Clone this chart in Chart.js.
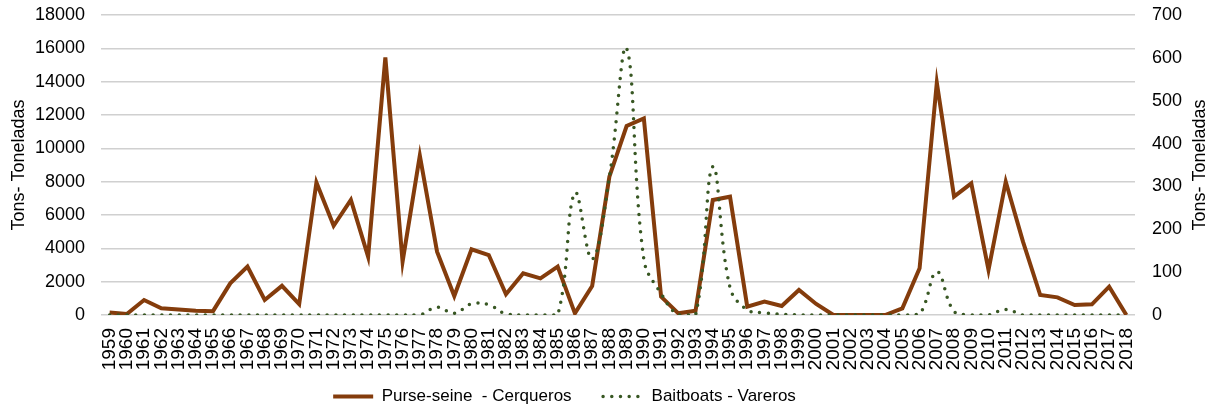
<!DOCTYPE html>
<html>
<head>
<meta charset="utf-8">
<script src="https://cdn.jsdelivr.net/npm/chart.js@4"></script>
<style>
  html, body { margin: 0; padding: 0; background: #fff; }
  #wrap { width: 1213px; height: 410px; }
</style>
</head>
<body>
<div id="wrap"><canvas id="catch-chart"></canvas></div>
<script>
const years = [];
for (let y = 1959; y <= 2018; y++) years.push(String(y));

const purseSeine = [
  150, 60, 900, 400, 330, 250, 230, 1900, 2900, 900,
  1750, 650, 7950, 5350, 6900, 3500, 15450, 3200, 9560, 3800,
  1140, 3940, 3600, 1240, 2500, 2200, 2900, 100, 1740, 8300,
  11340, 11800, 1100, 100, 250, 6900, 7100, 500, 800, 540,
  1500, 660, 0, 0, 0, 0, 400, 2800, 13940, 7100,
  7900, 2700, 8000, 4400, 1200, 1060, 600, 640, 1700, 0,
];

const baitboats = [
  0, 0, 0, 0, 0, 0, 0, 0, 0, 0,
  0, 0, 0, 0, 0, 0, 0, 0, 0, 18,
  4, 26, 24, 2, 0, 0, 0, 285, 130, 322,
  622, 130, 50, 0, 0, 346, 64, 12, 5, 2,
  0, 0, 0, 0, 0, 0, 0, 2, 101, 8,
  0, 0, 13, 0, 0, 0, 0, 0, 0, 0,
];

const leftTicks = { min: 0, max: 18000, step: 2000 };
const rightTicks = { min: 0, max: 700, step: 100 };
const axisTitle = 'Tons- Toneladas';

const textColor = '#000';
const gridColor = '#d0d0d0';
const fontFamily = '"Liberation Sans", Arial, sans-serif';

// legend sits left of centre in the original
const shiftLegend = {
  id: 'shiftLegend',
  afterLayout(chart) {
    chart.legend.left -= 42;
    chart.legend.right -= 42;
  },
};

// chart.js turns right-hand titles the other way, so write this one ourselves
const rightTitle = {
  id: 'rightTitle',
  afterDraw(chart) {
    const { ctx, chartArea } = chart;
    const scale = chart.scales.y1;
    ctx.save();
    ctx.translate(scale.right - 13, (chartArea.top + chartArea.bottom) / 2);
    ctx.rotate(-Math.PI / 2);
    ctx.font = `18px ${fontFamily}`;
    ctx.fillStyle = textColor;
    ctx.textAlign = 'center';
    ctx.textBaseline = 'middle';
    ctx.fillText(axisTitle, 0, 0);
    ctx.restore();
  },
};

function legendLabels(chart) {
  const items = Chart.defaults.plugins.legend.labels.generateLabels(chart);
  items.forEach((item) => {
    const ds = chart.data.datasets[item.datasetIndex];
    item.lineDash = ds.borderDash || [];
    item.lineCap = ds.borderCapStyle || 'butt';
    item.lineWidth = ds.borderWidth;
    item.strokeStyle = ds.borderColor;
  });
  return items.sort((a, b) => a.datasetIndex - b.datasetIndex);
}

new Chart(document.querySelector('#catch-chart'), {
  type: 'line',
  data: {
    labels: years,
    datasets: [
      {
        label: 'Purse-seine  - Cerqueros',
        data: purseSeine,
        borderColor: '#843C0C',
        backgroundColor: '#843C0C',
        borderWidth: 4,
        tension: 0,
        pointRadius: 0,
        yAxisID: 'y',
        order: 1,
      },
      {
        label: 'Baitboats - Vareros',
        data: baitboats,
        borderColor: '#385723',
        backgroundColor: '#385723',
        borderWidth: 3.5,
        borderDash: [0, 8.7],
        borderCapStyle: 'round',
        tension: 0.4,
        pointRadius: 0,
        yAxisID: 'y1',
        order: 0,
      },
    ],
  },
  options: {
    responsive: true,
    maintainAspectRatio: false,
    animation: false,
    layout: { padding: { top: 15, bottom: -5, left: 0, right: 0 } },
    plugins: {
      tooltip: { enabled: false },
      legend: {
        position: 'bottom',
        labels: {
          color: textColor,
          font: { family: fontFamily, size: 17 },
          usePointStyle: true,
          pointStyle: 'line',
          pointStyleWidth: 40,
          padding: 31.5,
          generateLabels: legendLabels,
        },
      },
    },
    scales: {
      x: {
        offset: true,
        grid: { display: false, drawTicks: false },
        border: { display: false },
        ticks: {
          color: textColor,
          font: { family: fontFamily, size: 19 },
          autoSkip: false,
          minRotation: 90,
          maxRotation: 90,
          padding: 13,
        },
        afterFit(scale) {
          scale.height = 41.5;
          // let the year labels run past the shortened axis box
          scale._computeLabelArea = () => undefined;
        },
      },
      y: {
        position: 'left',
        min: leftTicks.min,
        max: leftTicks.max,
        ticks: {
          stepSize: leftTicks.step,
          color: textColor,
          font: { family: fontFamily, size: 18 },
          padding: 0,
          callback: (value) => String(value),
        },
        grid: { color: gridColor, lineWidth: 1.5, tickLength: 16, tickColor: 'transparent' },
        border: { display: false },
        title: {
          display: true,
          text: axisTitle,
          color: textColor,
          font: { family: fontFamily, size: 18 },
          padding: { top: 8, bottom: 0 },
        },
        afterFit(scale) { scale.width = 101; },
      },
      y1: {
        position: 'right',
        min: rightTicks.min,
        max: rightTicks.max,
        ticks: {
          stepSize: rightTicks.step,
          color: textColor,
          font: { family: fontFamily, size: 18 },
          padding: 0,
          callback: (value) => String(value),
        },
        grid: { drawOnChartArea: false, tickLength: 17, tickColor: 'transparent' },
        border: { display: false },
        afterFit(scale) { scale.width = 78; },
      },
    },
  },
  plugins: [shiftLegend, rightTitle],
});
</script>
</body>
</html>
